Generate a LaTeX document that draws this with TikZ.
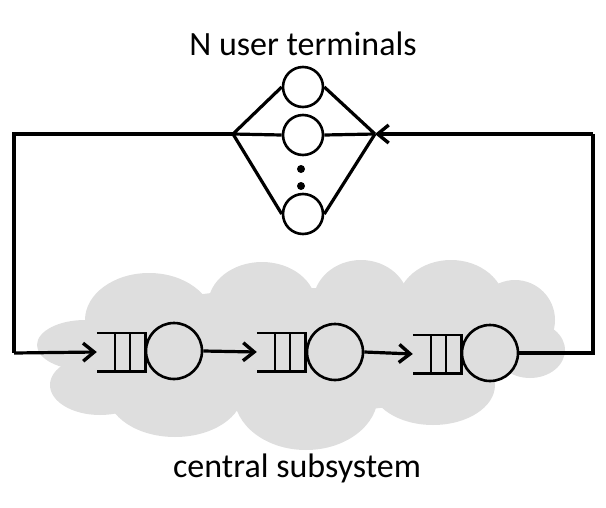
\documentclass[tikz,border=0pt]{standalone}
\usepackage{fontspec}
\setmainfont{Carlito}
\usetikzlibrary{arrows.meta,calc}
\definecolor{cloudgray}{RGB}{222,222,222}
\tikzset{
  srv/.style={circle,draw,line width=2.6pt,minimum size=56pt,inner sep=0pt},
  term/.style={circle,draw,line width=2.6pt,minimum size=40pt,inner sep=0pt},
  qbox/.style={rectangle,draw=none,minimum width=48pt,minimum height=38pt,inner sep=0pt},
  conn/.style={line width=3.2pt},
  arr/.style={line width=3.2pt,-{Straight Barb[length=11pt,width=18pt,line width=3.4pt]}},
  lbl/.style={font=\fontsize{34}{40}\selectfont,inner sep=0pt,anchor=base}
}
\begin{document}
\begin{tikzpicture}[x=1pt,y=-1pt]
\useasboundingbox (0,0) rectangle (606,507);
% cloud
\begin{scope}[fill=cloudgray]
\fill (149,320) ellipse [x radius=64,y radius=47];
\fill (262,305) ellipse [x radius=54,y radius=43];
\fill (361,303) ellipse [x radius=48,y radius=43];
\fill (451,305) ellipse [x radius=54,y radius=45];
\fill (515,320) ellipse [x radius=40,y radius=40];
\fill (530,350) ellipse [x radius=35,y radius=28];
\fill (433,385) ellipse [x radius=62,y radius=40];
\fill (306,395) ellipse [x radius=72,y radius=55];
\fill (175,392) ellipse [x radius=68,y radius=45];
\fill (100,385) ellipse [x radius=50,y radius=30];
\fill (85,345) ellipse [x radius=48,y radius=25];
\fill (300,350) ellipse [x radius=225,y radius=62];
\end{scope}
% labels
\node[lbl] (top) at (303,55) {N user terminals};
\node[lbl] (bot) at (297,477) {central subsystem};
% terminals
\node[term] (t1) at (303,87) {};
\node[term] (t2) at (303,135) {};
\node[term] (t3) at (303,214) {};
\node[circle,fill,inner sep=0pt,minimum size=8pt] (d1) at (301,169) {};
\node[circle,fill,inner sep=0pt,minimum size=8pt] (d2) at (301,186) {};
\coordinate (L) at (233,134);
\coordinate (R) at (375,134);
\draw[conn] (L) -- (t1.west);
\draw[conn] (L) -- (t2.west);
\draw[conn] (L) -- (t3.west);
\draw[conn] (t1.east) -- (R);
\draw[conn] (t2.east) -- (R);
\draw[conn] (t3.east) -- (R);
% queues and servers
\node[qbox] (q1) at (121,352) {};
\node[srv] (s1) at (174,351) {};
\node[qbox] (q2) at (281,352) {};
\node[srv] (s2) at (335,352) {};
\node[qbox] (q3) at (437,354) {};
\node[srv] (s3) at (490,353) {};
\foreach \q in {q1,q2,q3}{
  \draw[line width=2.6pt] (\q.north west) -- (\q.north east) -- (\q.south east) -- (\q.south west);
  \draw[line width=2.6pt] ($(\q.north west)!0.375!(\q.north east)$) -- ($(\q.south west)!0.375!(\q.south east)$);
  \draw[line width=2.6pt] ($(\q.north west)!0.69!(\q.north east)$) -- ($(\q.south west)!0.69!(\q.south east)$);
}
\draw[arr] (s1.east) -- (q2.west);
\draw[arr] (s2.east) -- (q3.west);
% feedback loops
\coordinate (lc1) at (14,134);
\coordinate (lc2) at (14,353);
\draw[conn] (L) -- (lc1) -- (lc2);
\draw[arr] (lc2) -- (q1.west);
\coordinate (rc1) at (593,353);
\coordinate (rc2) at (593,134);
\draw[conn] (s3.east) -- (rc1) -- (rc2);
\draw[arr] (rc2) -- (R);
\end{tikzpicture}
\end{document}
